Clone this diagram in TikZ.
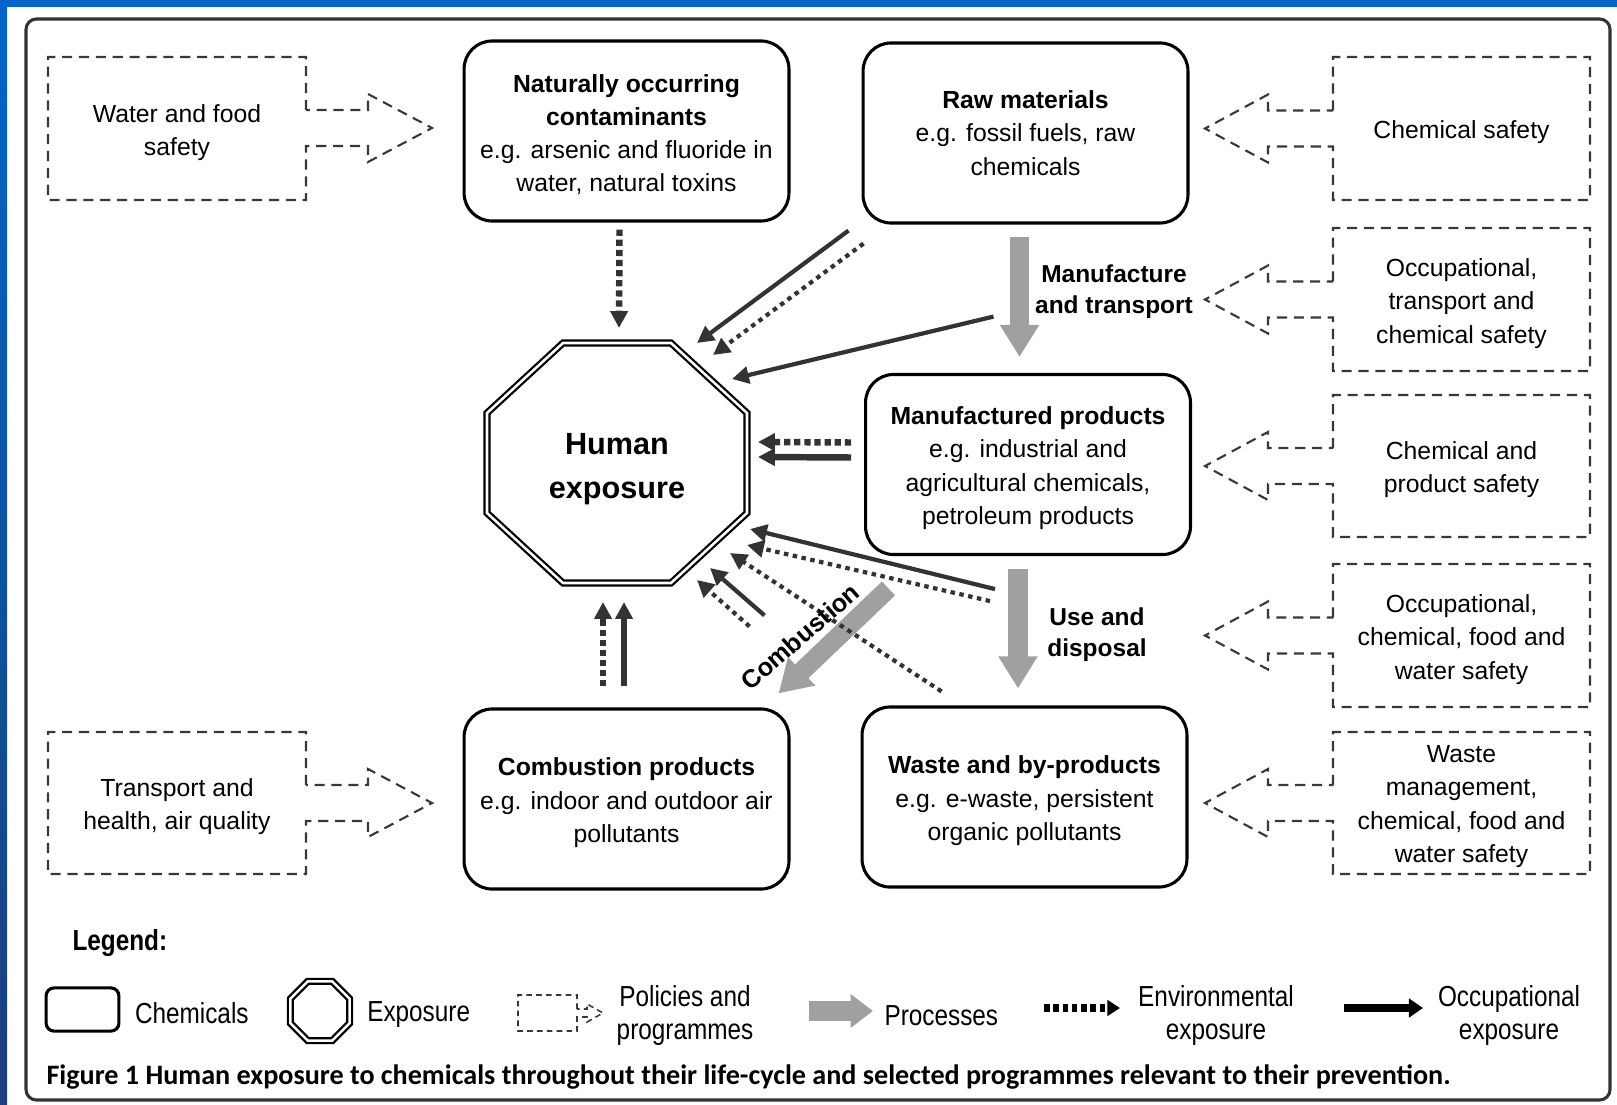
\documentclass[tikz,border=0pt]{standalone}
\usepackage{fontspec}
\setmainfont{Liberation Sans}
\newfontfamily\legendfont{Liberation Sans}[FakeStretch=0.84]
\newfontfamily\capfont{Carlito}
\usetikzlibrary{positioning,calc,arrows.meta,shapes.geometric}

\definecolor{slideblue}{HTML}{0066CC}
\definecolor{slidenavy}{HTML}{1B3F7A}
\definecolor{linegray}{HTML}{333333}
\definecolor{procgray}{HTML}{A0A0A0}

\tikzset{
	chem/.style={draw=black,line width=1.1pt,rounded corners=0.35cm,minimum width=4.06cm,minimum height=2.25cm,align=center,font=\fontsize{8.8}{11.8}\selectfont},
	policy/.style={draw=black!78,line width=0.75pt,dash pattern=on 3.6pt off 2.4pt},
	lower/.style={yshift=-1.3pt},
	policytext/.style={lower,align=center,font=\fontsize{8.8}{11.9}\selectfont},
	expo/.style={draw=black,line width=0.8pt,double=white,double distance=0.9pt},
	occ/.style={draw=linegray,line width=1.5pt,-{Triangle[length=6pt,width=6pt]}},
	occbold/.style={occ,line width=2.3pt},
	env/.style={draw=linegray,line width=1.5pt,dash pattern=on 1.6pt off 1.6pt,-{Triangle[length=6pt,width=6pt]}},
	envbold/.style={env,line width=2.3pt,dash pattern=on 2.2pt off 1.4pt},
	process/.style={draw=procgray,line width=6.8pt,-{Triangle[length=11.4pt,width=13.2pt]}},
	lbl/.style={lower,align=center,font=\bfseries\fontsize{8.7}{10.9}\selectfont},
	legtext/.style={lower,align=center,inner sep=0pt,font=\legendfont\fontsize{10.3}{11.8}\selectfont},
}

\begin{document}
\begin{tikzpicture}[x=0.0125cm,y=-0.0125cm]
		\useasboundingbox (0,0) rectangle (1617,1104);
		\fill[white] (0,0) rectangle (1617,1104);
		\fill[slideblue] (0,0) rectangle (1617,7);
		\shade[top color=slideblue,bottom color=slidenavy] (0,0) rectangle (7,1104);
		\draw[linegray,line width=1.1pt,rounded corners=0.13cm] (26,19) rectangle (1610,1100);
		
		% chemicals
		\node[chem] (nat) at (626.5,131) {\rule{0pt}{9pt}\textbf{Naturally occurring}\\\textbf{contaminants}\\e.g. arsenic and fluoride in\\water, natural toxins};
		\node[chem] (raw) at (1025.5,133) {\textbf{Raw materials}\\e.g. fossil fuels, raw\\chemicals};
		\node[chem] (manu) at (1028,464.5) {\rule{0pt}{9pt}\textbf{Manufactured products}\\e.g. industrial and\\agricultural chemicals,\\petroleum products};
		\node[chem] (comb) at (626.5,799) {\rule{0pt}{9pt}\textbf{Combustion products}\\e.g. indoor and outdoor air\\pollutants};
		\node[chem] (waste) at (1024.5,797) {\rule{0pt}{9pt}\textbf{Waste and by-products}\\e.g. e-waste, persistent\\organic pollutants};
		
		% exposure
		\coordinate (hum) at (617,463);
		\node[font=\bfseries\fontsize{10.9}{15.4}\selectfont,align=center] (humtxt) at ($(hum)+(0,6)$) {Human\\exposure};
		\draw[expo] ($(hum)+(-54,-120)$) -- ($(hum)+(54,-120)$) -- ($(hum)+(130,-50)$) -- ($(hum)+(130,50)$) -- ($(hum)+(54,120)$) -- ($(hum)+(-54,120)$) -- ($(hum)+(-130,50)$) -- ($(hum)+(-130,-50)$) -- cycle;
		
		% policies
		\draw[policy] (306,110) |- (48,57) |- (306,200) -- (306,146) -- ++(62,0) -- ++(0,16) -- ++(64,-34) -- ++(-64,-34) -- ++(0,16) -- cycle;
		\node[policytext] (foodsafe) at (177,129) {Water and food\\safety};
		\draw[policy] (306,785) |- (48,732) |- (306,874) -- (306,821) -- ++(62,0) -- ++(0,16) -- ++(64,-34) -- ++(-64,-34) -- ++(0,16) -- cycle;
		\node[policytext] (airsafe) at (177,803) {Transport and\\health, air quality};
		
		\draw[policy] (1333,110.5) |- (1590,57) |- (1333,200) -- (1333,146.5) -- ++(-65,0) -- ++(0,16) -- ++(-63,-34) -- ++(63,-34) -- ++(0,16) -- cycle;
		\node[policytext] (chemsafe) at (1461.5,128.5) {Chemical safety};
		\draw[policy] (1333,281.5) |- (1590,228) |- (1333,371) -- (1333,317.5) -- ++(-65,0) -- ++(0,16) -- ++(-63,-34) -- ++(63,-34) -- ++(0,16) -- cycle;
		\node[policytext] (occsafe) at (1461.5,299.5) {Occupational,\\transport and\\chemical safety};
		\draw[policy] (1333,448) |- (1590,395) |- (1333,537) -- (1333,484) -- ++(-65,0) -- ++(0,16) -- ++(-63,-34) -- ++(63,-34) -- ++(0,16) -- cycle;
		\node[policytext] (prodsafe) at (1461.5,466) {Chemical and\\product safety};
		\draw[policy] (1333,617.5) |- (1590,564) |- (1333,707) -- (1333,653.5) -- ++(-65,0) -- ++(0,16) -- ++(-63,-34) -- ++(63,-34) -- ++(0,16) -- cycle;
		\node[policytext] (watersafe) at (1461.5,635.5) {Occupational,\\chemical, food and\\water safety};
		\draw[policy] (1333,785) |- (1590,732) |- (1333,874) -- (1333,821) -- ++(-65,0) -- ++(0,16) -- ++(-63,-34) -- ++(63,-34) -- ++(0,16) -- cycle;
		\node[policytext] (wastesafe) at (1461.5,803) {Waste\\management,\\chemical, food and\\water safety};
		
		% processes
		\draw[process] ($(raw.south)+(-6,12)$) -- ($(manu.north)+(-8.5,-16)$);
		\draw[process] ($(manu.south)+(-10,13)$) -- ($(waste.north)+(-6.5,-17)$);
		\draw[process] ($(waste.north west)+(28,-117)$) -- ($(comb.north east)+(-12,-14)$);
		\node[lbl] (mtlbl) at (1114,288) {Manufacture\\and transport};
		\node[lbl] (udlbl) at (1097,631) {Use and\\disposal};
		
		% exposure routes
		\draw[envbold] ($(nat.south)+(-7,7)$) -- ($(hum)+(2,-135)$);
		\draw[occ] ($(raw.south west)+(-13,6)$) -- ($(hum)+(80,-120)$);
		\draw[env] ($(raw.south west)+(2,19)$) -- ($(hum)+(96,-108)$);
		\draw[occ] ($(raw.south)+(-32,92)$) -- ($(hum)+(115,-84)$);
		\draw[envbold] ($(manu.west)+(-13,-22)$) -- ($(hum)+(141,-21)$);
		\draw[occbold] ($(manu.west)+(-13,-7)$) -- ($(hum)+(141,-6)$);
		\draw[occ] ($(manu.south)+(-33,33)$) -- ($(hum)+(133,66)$);
		\draw[env] ($(manu.south)+(-38,45)$) -- ($(hum)+(130,82)$);
		\draw[env] ($(waste.north west)+(81,-14)$) -- ($(hum)+(113,90)$);
		\draw[occ] ($(comb.north east)+(-26,-92)$) -- ($(hum)+(93,105)$);
		\draw[env] ($(comb.north east)+(-41,-81)$) -- ($(hum)+(80,117)$);
		\draw[envbold] ($(comb.north)+(-23.5,-21)$) -- ($(hum)+(-14,139)$);
		\draw[occbold] ($(comb.north)+(-2.5,-21)$) -- ($(hum)+(7,139)$);
		\node[lbl,font=\bfseries\fontsize{9}{11}\selectfont,rotate=41] (cblbl) at (800,633) {Combustion};
		
		% legend
		\node[legtext,font=\legendfont\bfseries\fontsize{10.3}{11.8}\selectfont,anchor=west] (legend) at (72,939) {Legend:};
		\node[draw=black,line width=1.1pt,rounded corners=0.1cm,minimum width=0.91cm,minimum height=0.54cm] (lgchem) at (82.5,1009.5) {};
		\node[legtext,right=0.175cm of lgchem] (lgchemtxt) {Chemicals};
		\node[expo,regular polygon,regular polygon sides=8,minimum size=0.8cm,inner sep=0pt] (lgexpo) at (320,1011) {};
		\node[legtext,right=0.2cm of lgexpo] (lgexpotxt) {Exposure};
		\draw[policy,line width=0.55pt,dash pattern=on 2pt off 1.5pt] (577,1009) |- (518,995) |- (577,1031) -- (577,1017) -- ++(10,0) -- ++(0,5) -- ++(16,-9) -- ++(-16,-9) -- ++(0,5) -- cycle;
		\node[legtext] (lgpoltxt) at (685,1012) {Policies and\\programmes};
		\coordinate (lgproc1) at (809,1011);
		\coordinate (lgproc2) at (873,1011);
		\draw[process,line width=7pt,-{Triangle[length=8pt,width=11.6pt]}] (lgproc1) -- (lgproc2);
		\node[legtext,anchor=west] (lgproctxt) at (884,1012) {Processes};
		\coordinate (lgenv1) at (1044,1008);
		\coordinate (lgenv2) at (1120,1008);
		\draw[draw=black,line width=2.5pt,dash pattern=on 2pt off 1.3pt,-{Triangle[length=4.5pt,width=5.5pt]}] (lgenv1) -- (lgenv2);
		\node[legtext] (lgenvtxt) at (1216,1012) {Environmental\\exposure};
		\coordinate (lgocc1) at (1344,1008);
		\coordinate (lgocc2) at (1423,1008);
		\draw[draw=black,line width=2.5pt,-{Triangle[length=5pt,width=6.5pt]}] (lgocc1) -- (lgocc2);
		\node[legtext] (lgocctxt) at (1509,1012) {Occupational\\exposure};
		
		\node[lower,anchor=west,inner sep=0pt,font=\capfont\bfseries\fontsize{10}{12}\selectfont] (caption) at (46,1073) {Figure 1 Human exposure to chemicals throughout their life-cycle and selected programmes relevant to their prevention.};
	\end{tikzpicture}
\end{document}
